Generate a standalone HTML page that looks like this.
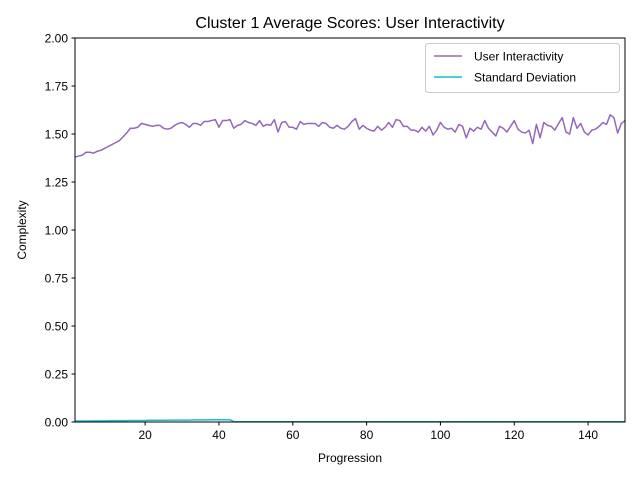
<!DOCTYPE html>
<html><head><meta charset="utf-8"><style>
body{margin:0;background:#fff;}
svg{display:block;font-family:"Liberation Sans","DejaVu Sans",sans-serif;}
</style></head><body>
<svg id="chart" width="640" height="480">
<text x="350" y="28" text-anchor="middle" font-size="16">Cluster 1 Average Scores: User Interactivity</text>
<text x="350" y="462" text-anchor="middle" font-size="12">Progression</text>
<text x="26" y="230" text-anchor="middle" font-size="12" transform="rotate(-90 26 230)">Complexity</text>
<g id="axes"></g>
<g id="series"></g>
<rect x="75" y="38" width="550" height="384" fill="none" stroke="#000" stroke-width="1"/>
<g>
<rect x="425.5" y="43.5" width="194" height="49" rx="3" fill="#fff" fill-opacity="0.8" stroke="#ccc"/>
<line x1="434" y1="56" x2="462" y2="56" stroke="#9467bd" stroke-width="1.5"/>
<text x="474" y="60.5" font-size="12">User Interactivity</text>
<line x1="434" y1="77" x2="462" y2="77" stroke="#17becf" stroke-width="1.5"/>
<text x="474" y="81.5" font-size="12">Standard Deviation</text>
</g>
</svg>
<script>
const avgScores=[1.38,1.385,1.39,1.405,1.405,1.40,1.41,1.415,1.425,1.435,1.445,1.455,1.465,1.485,1.505,1.53,1.53,1.535,1.555,1.55,1.545,1.54,1.545,1.545,1.53,1.525,1.53,1.545,1.555,1.56,1.55,1.535,1.555,1.555,1.545,1.565,1.565,1.57,1.575,1.535,1.57,1.57,1.575,1.53,1.545,1.55,1.57,1.56,1.555,1.545,1.57,1.54,1.55,1.545,1.575,1.51,1.56,1.565,1.535,1.535,1.525,1.565,1.55,1.555,1.555,1.555,1.54,1.56,1.555,1.535,1.53,1.545,1.53,1.525,1.54,1.565,1.58,1.525,1.545,1.53,1.52,1.515,1.54,1.52,1.535,1.56,1.535,1.575,1.57,1.54,1.54,1.52,1.52,1.51,1.535,1.515,1.54,1.495,1.52,1.56,1.535,1.525,1.53,1.51,1.55,1.54,1.48,1.53,1.515,1.535,1.525,1.57,1.53,1.51,1.49,1.54,1.53,1.51,1.54,1.57,1.525,1.51,1.505,1.52,1.45,1.55,1.48,1.56,1.545,1.54,1.52,1.555,1.585,1.51,1.5,1.585,1.53,1.555,1.51,1.495,1.52,1.525,1.54,1.56,1.55,1.6,1.585,1.505,1.555,1.57];
const stdDev=[0.005,0.005,0.005,0.005,0.005,0.006,0.006,0.006,0.006,0.006,0.007,0.007,0.007,0.007,0.007,0.008,0.008,0.008,0.008,0.008,0.009,0.009,0.009,0.009,0.009,0.009,0.010,0.010,0.010,0.010,0.010,0.010,0.011,0.011,0.011,0.011,0.011,0.012,0.012,0.012,0.012,0.012,0.012,0.002,0.001,0.001,0.001,0.001,0.001,0.001,0.001,0.001,0.001,0.001,0.001,0.001,0.001,0.001,0.001,0.001,0.001,0.001,0.001,0.001,0.001,0.001,0.001,0.001,0.001,0.001,0.001,0.001,0.001,0.001,0.001,0.001,0.001,0.001,0.001,0.001,0.001,0.001,0.001,0.001,0.001,0.001,0.001,0.001,0.001,0.001,0.001,0.001,0.001,0.001,0.001,0.001,0.001,0.001,0.001,0.001,0.001,0.001,0.001,0.001,0.001,0.001,0.001,0.001,0.001,0.001,0.001,0.001,0.001,0.001,0.001,0.001,0.001,0.001,0.001,0.001,0.001,0.001,0.001,0.001,0.001,0.001,0.001,0.001,0.001,0.001,0.001,0.001,0.001,0.001,0.001,0.001,0.001,0.001,0.001,0.001,0.001,0.001,0.001,0.001,0.001,0.001,0.001,0.001,0.001,0.001];
const xTicks=[20,40,60,80,100,120,140];
const yTicks=[0,0.25,0.5,0.75,1.0,1.25,1.5,1.75,2.0];
const X0=75,X1=625,Y0=422,Y1=38,XMIN=1,XMAX=150,YMIN=0,YMAX=2;
const xs=v=>X0+(v-XMIN)/(XMAX-XMIN)*(X1-X0);
const ys=v=>Y0-(v-YMIN)/(YMAX-YMIN)*(Y0-Y1);
const NS="http://www.w3.org/2000/svg";
const axes=document.getElementById('axes'),series=document.getElementById('series');
function mk(t,a,p){const e=document.createElementNS(NS,t);for(const k in a)e.setAttribute(k,a[k]);p.appendChild(e);return e;}
xTicks.forEach(t=>{const x=xs(t);
const l=mk('line',{x1:x,x2:x,y1:Y0,y2:Y0+3.5,stroke:'#000'},axes);


const tx=mk('text',{x:x,y:Y0+17,'text-anchor':'middle','font-size':12},axes);tx.textContent=t;

});
yTicks.forEach(t=>{const y=ys(t);
const l=mk('line',{x1:X0-3.5,x2:X0,y1:y,y2:y,stroke:'#000'},axes);


const tx=mk('text',{x:X0-7,y:y+4.5,'text-anchor':'end','font-size':12},axes);tx.textContent=t.toFixed(2);

});
function path(arr,color,name){const d=arr.map((v,i)=>(i?'L':'M')+xs(i+1).toFixed(2)+','+ys(v).toFixed(2)).join('');
const p=mk('path',{d:d,fill:'none',stroke:color,'stroke-width':1.5,'stroke-linejoin':'round'},series);

}
path(avgScores,'#9467bd','user-interactivity-line');
path(stdDev,'#17becf','standard-deviation-line');
</script>
</body></html>
